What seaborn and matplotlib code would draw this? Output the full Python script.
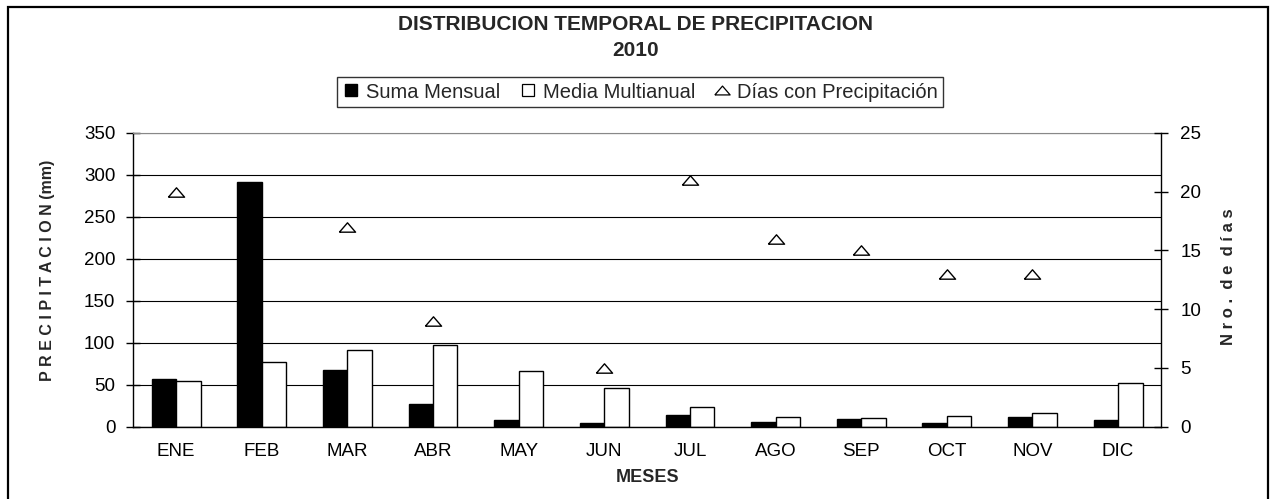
import numpy as np
import pandas as pd
import matplotlib
matplotlib.use("Agg")
import matplotlib.pyplot as plt
from matplotlib.lines import Line2D
from matplotlib.patches import Rectangle
import seaborn as sns

# Monthly precipitation data, 2010
meses = ["ENE", "FEB", "MAR", "ABR", "MAY", "JUN", "JUL", "AGO", "SEP", "OCT", "NOV", "DIC"]
suma_mensual = [57, 292, 68, 27, 8.5, 4.5, 14, 5.8, 8.8, 4.5, 11.7, 8.5]
media_multianual = [55, 77.5, 91.5, 97, 66, 46, 24, 11.3, 10.2, 12.8, 16.8, 51.8]
dias_precipitacion = [20, np.nan, 17, 9, np.nan, 5, 21, 16, 15, 13, 13, np.nan]

series = ["Suma Mensual", "Media Multianual"]
serie_dias = "Días con Precipitación"

df = pd.DataFrame({
    "mes": meses * 2,
    "serie": [series[0]] * 12 + [series[1]] * 12,
    "valor": suma_mensual + media_multianual,
})

sns.set_style("white")
plt.rcParams["font.family"] = ["Liberation Sans", "DejaVu Sans"]

fig = plt.figure(figsize=(12.71, 4.99), dpi=100)
ax = fig.add_axes([0.1049, 0.1449, 0.8085, 0.5886])

sns.barplot(data=df, x="mes", y="valor", hue="serie", order=meses,
            hue_order=series, palette=["black", "white"], edgecolor="black",
            linewidth=1.0, width=0.57, saturation=1, legend=False, ax=ax)

ax.set_xlim(-0.5, 11.5)
ax.set_ylim(0, 350)
ax.set_yticks(np.arange(0, 351, 50))
ax.yaxis.grid(True, color="black", linewidth=0.8)
ax.set_axisbelow(True)
for side in ["left", "right", "bottom"]:
    ax.spines[side].set_color("black")
    ax.spines[side].set_linewidth(1.0)
ax.spines["top"].set_color("#888888")
ax.spines["top"].set_linewidth(0.8)

ax.set_xticks(np.arange(len(meses)))
ax.set_xticklabels(meses)
ax.set_xticks(np.arange(len(meses) + 1) - 0.5, minor=True)
ax.tick_params(axis="x", which="major", length=0, pad=11.5, labelsize=13.5, colors="black")
ax.tick_params(axis="x", which="minor", length=8, direction="inout", width=1, color="black")
ax.tick_params(axis="y", which="major", length=10, direction="inout", width=1,
               pad=8, labelsize=13.5, colors="black", left=True)

ax.set_xlabel("MESES", fontsize=13, fontweight="bold", labelpad=7)
ax.set_ylabel("P R E C I P I T A C I O N (mm)", fontsize=11.5, fontweight="bold")
ax.yaxis.label.set(va="center", ha="center", rotation_mode="default")
ax.yaxis.set_label_coords(-0.084, 0.532)

# Days with precipitation on the secondary axis
ax2 = ax.twinx()
tri = [(-1, -0.58), (1, -0.58), (0, 0.58), (-1, -0.58)]
pos = np.arange(len(meses))
sns.scatterplot(x=pos, y=dias_precipitacion, marker=tri, s=135, color="white",
                edgecolor="black", linewidth=1.0, ax=ax2, legend=False, zorder=5)
ax2.set_ylim(0, 25)
ax2.set_yticks(np.arange(0, 26, 5))
ax2.tick_params(axis="y", length=10, direction="inout", width=1, pad=9,
                labelsize=13.5, colors="black", right=True)
for side in ["left", "right", "bottom", "top"]:
    ax2.spines[side].set_visible(False)
ax2.set_ylabel("N r o .  d e  d í a s", fontsize=12, fontweight="bold")
ax2.yaxis.label.set(va="center", ha="center", rotation=90, rotation_mode="default")
ax2.yaxis.set_label_coords(1.066, 0.51)
ax2.set_xlim(-0.5, 11.5)

# Title
fig.text(0.5, 1 - 25 / 499, "DISTRIBUCION TEMPORAL DE PRECIPITACION",
         ha="center", va="center", fontsize=15, fontweight="bold")
fig.text(0.5, 1 - 50 / 499, "2010", ha="center", va="center",
         fontsize=15, fontweight="bold")

# Legend
handles = [
    Line2D([], [], linestyle="none", marker="s", markersize=8.5,
           markerfacecolor="black", markeredgecolor="black"),
    Line2D([], [], linestyle="none", marker="s", markersize=8.5,
           markerfacecolor="white", markeredgecolor="black", markeredgewidth=0.9),
    Line2D([], [], linestyle="none", marker=tri, markersize=11,
           markerfacecolor="white", markeredgecolor="black", markeredgewidth=0.9),
]
leg = fig.legend(handles, series + [serie_dias], loc="center",
                 bbox_to_anchor=(640 / 1271, 1 - 92 / 499), ncol=3,
                 fontsize=14.5, frameon=True, fancybox=False, handlelength=0.9,
                 handletextpad=0.3, columnspacing=0.9, borderpad=0.25,
                 borderaxespad=0)
leg.get_frame().set_edgecolor("black")
leg.get_frame().set_linewidth(1.0)

# Outer frame of the chart
fig.patches.append(Rectangle((8 / 1271, -0.02), 1259.5 / 1271, 1 - 7 / 499 + 0.02,
                             transform=fig.transFigure, fill=False,
                             edgecolor="black", linewidth=1.6))

fig.savefig("out.png", dpi=100)
